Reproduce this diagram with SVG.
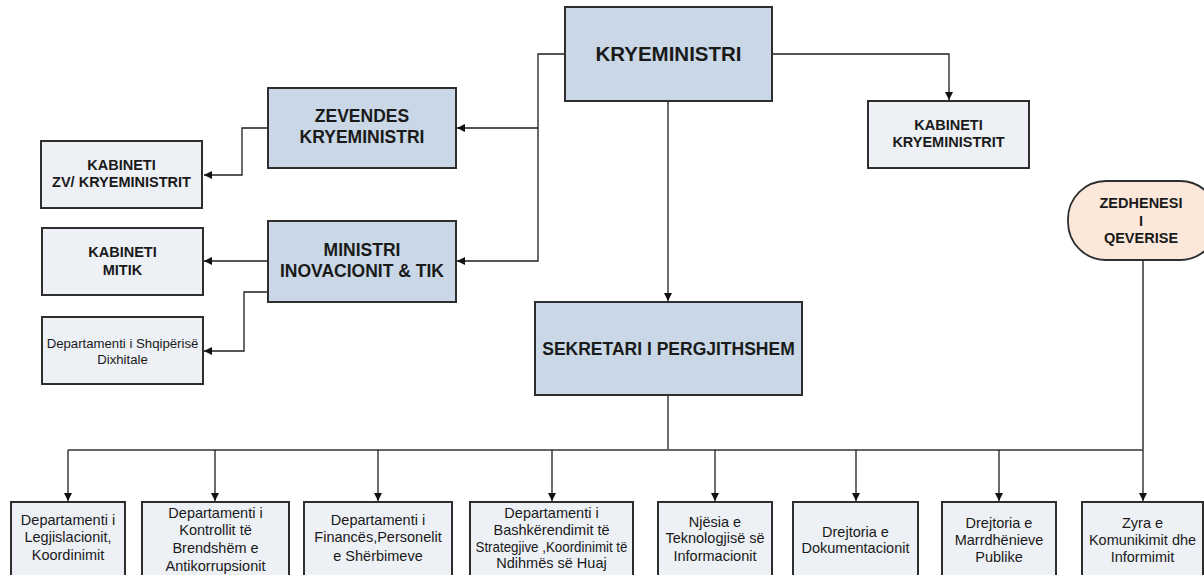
<svg xmlns="http://www.w3.org/2000/svg" width="1204" height="575" viewBox="0 0 1204 575">
<style>
.main{fill:#c9d7e6;stroke:#2e2e2e;stroke-width:2}
.sub{fill:#edf0f5;stroke:#2e2e2e;stroke-width:2}
.pill{fill:#fbe8da;stroke:#2e2e2e;stroke-width:1.8}
text{font-family:"Liberation Sans",Arial,sans-serif;fill:#1a1a1a;text-anchor:middle}
.b20{font-size:20.5px;font-weight:bold}
.b17{font-size:17.5px;font-weight:bold}
.b14{font-size:14.5px;font-weight:bold}
.r13{font-size:13.2px}
.r14{font-size:14.5px}
.ln{fill:none;stroke:#1e1e1e;stroke-width:1.3}
.gl{fill:none;stroke:#666;stroke-width:2}
</style>
<defs>
<marker id="ah" viewBox="0 0 10 10" refX="10" refY="5" markerWidth="8" markerHeight="8" markerUnits="userSpaceOnUse" orient="auto">
<path d="M0,0 L10,5 L0,10 z" fill="#111"/>
</marker>
</defs>
<rect width="1204" height="575" fill="#fff"/>
<g id="connectors">
<path class="ln" d="M565,54 H538 V261 H457" marker-end="url(#ah)"/>
<path class="ln" d="M538,128 H457" marker-end="url(#ah)"/>
<path class="ln" d="M772,54 H949 V100" marker-end="url(#ah)"/>
<path class="ln" d="M668,101 V301" marker-end="url(#ah)"/>
<path class="ln" d="M268,128 H242 V175 H204" marker-end="url(#ah)"/>
<path class="ln" d="M268,261 H204" marker-end="url(#ah)"/>
<path class="ln" d="M268,292 H244 V351 H204" marker-end="url(#ah)"/>
<path class="ln" d="M668,395 V450"/>
<path class="gl" d="M68,450 H1143"/>
<path class="gl" d="M1143,260 V450"/>
<path class="ln" d="M68,450 V501" marker-end="url(#ah)"/>
<path class="ln" d="M215,450 V501" marker-end="url(#ah)"/>
<path class="ln" d="M378,450 V501" marker-end="url(#ah)"/>
<path class="ln" d="M552,450 V501" marker-end="url(#ah)"/>
<path class="ln" d="M715,450 V501" marker-end="url(#ah)"/>
<path class="ln" d="M856,450 V501" marker-end="url(#ah)"/>
<path class="ln" d="M999,450 V501" marker-end="url(#ah)"/>
<path class="ln" d="M1143,450 V501" marker-end="url(#ah)"/>
</g>
<g id="kryeministri">
<rect class="main" x="565" y="7" width="207" height="94"/>
<text class="b20" x="668.5" y="61">KRYEMINISTRI</text>
</g>
<g id="zevendes">
<rect class="main" x="268" y="88" width="188" height="80"/>
<text class="b17" x="362" y="122">ZEVENDES</text>
<text class="b17" x="362" y="143">KRYEMINISTRI</text>
</g>
<g id="ministri">
<rect class="main" x="268" y="221" width="188" height="81"/>
<text class="b17" x="362" y="256">MINISTRI</text>
<text class="b17" x="362" y="277">INOVACIONIT &amp; TIK</text>
</g>
<g id="kabineti-zv">
<rect class="sub" x="41" y="141" width="161" height="67"/>
<text class="b14" x="121.5" y="170">KABINETI</text>
<text class="b14" x="121.5" y="187">ZV/ KRYEMINISTRIT</text>
</g>
<g id="kabineti-mitik">
<rect class="sub" x="42" y="228" width="161" height="67"/>
<text class="b14" x="122.5" y="257">KABINETI</text>
<text class="b14" x="122.5" y="275">MITIK</text>
</g>
<g id="dep-shqiperise">
<rect class="sub" x="42" y="317" width="161" height="67"/>
<text class="r13" x="122.5" y="348">Departamenti i Shqipërisë</text>
<text class="r13" x="122.5" y="364">Dixhitale</text>
</g>
<g id="kabineti-kryeministrit">
<rect class="sub" x="868" y="101" width="161" height="67"/>
<text class="b14" x="948.5" y="130">KABINETI</text>
<text class="b14" x="948.5" y="147">KRYEMINISTRIT</text>
</g>
<g id="zedhenesi">
<rect class="pill" x="1068" y="181" width="150" height="79" rx="38" ry="38"/>
<text class="b14" x="1141" y="208">ZEDHENESI</text>
<text class="b14" x="1141" y="226">I</text>
<text class="b14" x="1141" y="243">QEVERISE</text>
</g>
<g id="sekretari">
<rect class="main" x="535" y="302" width="267" height="93"/>
<text class="b17" x="668.5" y="355">SEKRETARI I PERGJITHSHEM</text>
</g>
<g id="dep-legjislacionit">
<rect class="sub" x="11" y="502" width="114" height="80"/>
<text class="r14" x="68" y="525">Departamenti i</text>
<text class="r14" x="68" y="542">Legjislacionit,</text>
<text class="r14" x="68" y="560">Koordinimit</text>
</g>
<g id="dep-kontrollit">
<rect class="sub" x="142" y="502" width="147" height="80"/>
<text class="r14" x="215.5" y="518">Departamenti i</text>
<text class="r14" x="215.5" y="535">Kontrollit të</text>
<text class="r14" x="215.5" y="553">Brendshëm e</text>
<text class="r14" x="215.5" y="571">Antikorrupsionit</text>
</g>
<g id="dep-finances">
<rect class="sub" x="304" y="502" width="148" height="80"/>
<text class="r14" x="378" y="525">Departamenti i</text>
<text class="r14" x="378" y="542">Financës,Personelit</text>
<text class="r14" x="378" y="561">e Shërbimeve</text>
</g>
<g id="dep-bashkerendimit">
<rect class="sub" x="470" y="502" width="163" height="80"/>
<text class="r14" x="551.5" y="518">Departamenti i</text>
<text class="r14" x="551.5" y="535">Bashkërendimit të</text>
<text class="r14" x="551.5" y="552" textLength="152" lengthAdjust="spacingAndGlyphs">Strategjive ,Koordinimit të</text>
<text class="r14" x="551.5" y="568">Ndihmës së Huaj</text>
</g>
<g id="njesia">
<rect class="sub" x="658" y="502" width="114" height="80"/>
<text class="r14" x="715" y="527">Njësia e</text>
<text class="r14" x="715" y="543">Teknologjisë së</text>
<text class="r14" x="715" y="561">Informacionit</text>
</g>
<g id="drejtoria-dok">
<rect class="sub" x="793" y="502" width="125" height="80"/>
<text class="r14" x="855.5" y="537">Drejtoria e</text>
<text class="r14" x="855.5" y="553">Dokumentacionit</text>
</g>
<g id="drejtoria-marr">
<rect class="sub" x="942" y="502" width="114" height="80"/>
<text class="r14" x="999" y="528">Drejtoria e</text>
<text class="r14" x="999" y="545">Marrdhënieve</text>
<text class="r14" x="999" y="562">Publike</text>
</g>
<g id="zyra">
<rect class="sub" x="1082" y="502" width="121" height="80"/>
<text class="r14" x="1142.5" y="528">Zyra e</text>
<text class="r14" x="1142.5" y="545">Komunikimit dhe</text>
<text class="r14" x="1142.5" y="562">Informimit</text>
</g>
</svg>
